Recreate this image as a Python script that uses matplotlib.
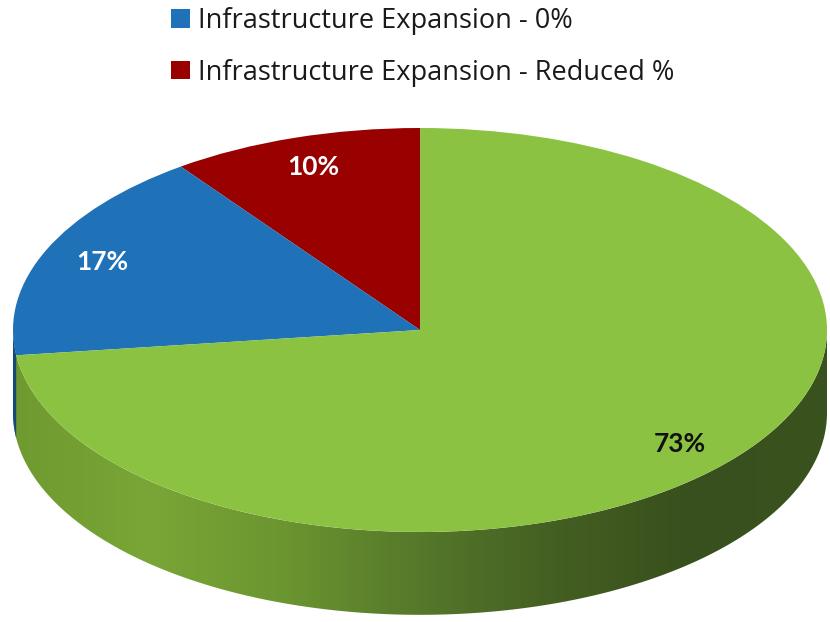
import numpy as np
import matplotlib
matplotlib.use("Agg")
import matplotlib.pyplot as plt
from matplotlib.patches import Polygon
from matplotlib.colors import LinearSegmentedColormap

plt.rcParams['font.family'] = ['Open Sans', 'DejaVu Sans']

# data
labels = ['Infrastructure Expansion - Reduced %', 'Infrastructure Expansion - 0%', 'Other']
values = [10, 17, 73]
colors = ['#990000', '#1F71B8', '#8BC241']
side_colors = ['#5e0000', '#134a7a', None]   # green side gets a gradient
label_colors = ['white', 'white', '#111111']
legend_order = [1, 0]

depth = 0.41          # thickness of the disc, in units of the vertical radius

fig = plt.figure(figsize=(8.3, 6.22), dpi=100)
ax = fig.add_axes([0, 0, 1, 1])

wedges, texts, autotexts = ax.pie(
    values, colors=colors, startangle=90, counterclock=True, radius=1,
    autopct=lambda p: f'{p:.0f}%', pctdistance=0.85,
    wedgeprops=dict(linewidth=0),
    textprops=dict(fontsize=19, fontweight='bold', family=['Lato', 'DejaVu Sans']))
for t in texts:
    t.set_text('')
for t, c in zip(autotexts, label_colors):
    t.set_color(c)
    t.set_zorder(5)
for w in wedges:
    w.set_zorder(3)

# front side of the disc (angles 180..360 are visible)
th = np.linspace(np.pi, 2 * np.pi, 400)
side = np.vstack([np.column_stack([np.cos(th), np.sin(th)]),
                  np.column_stack([np.cos(th[::-1]), np.sin(th[::-1]) - depth])])
side_poly = Polygon(side, closed=True, facecolor='none', edgecolor='none')
ax.add_patch(side_poly)
grad = LinearSegmentedColormap.from_list(
    'side', ['#6f9a30', '#79a636', '#6b9530', '#55782a', '#445f22', '#38501d', '#3a521e'])
img = ax.imshow(np.linspace(0, 1, 256)[None, :], cmap=grad, aspect='auto',
                extent=[-1, 1, -1 - depth, 0], zorder=1, interpolation='bilinear')
img.set_clip_path(side_poly)

# side strips of the other wedges where they reach the front half
start = 90.0
for v, sc in zip(values, side_colors):
    end = start + 360.0 * v / sum(values)
    a0, a1 = max(start, 180.0), min(end, 360.0)
    if sc is not None and a1 > a0:
        tt = np.radians(np.linspace(a0, a1, 30))
        pts = np.vstack([np.column_stack([np.cos(tt), np.sin(tt)]),
                         np.column_stack([np.cos(tt[::-1]), np.sin(tt[::-1]) - depth])])
        ax.add_patch(Polygon(pts, closed=True, facecolor=sc, edgecolor='none', zorder=2))
    start = end

ax.legend([wedges[i] for i in legend_order], [labels[i] for i in legend_order],
          loc='upper left', bbox_to_anchor=(171 / 830, 1 - 7 / 622), frameon=False,
          fontsize=19.5, handlelength=0.7, handleheight=0.65, handletextpad=0.3,
          labelspacing=0.88, borderpad=0, borderaxespad=0, labelcolor='#1a1a1a')

ax.set_aspect('auto')
ax.set_xlim(-420 / 407, 410 / 407)
ax.set_ylim(-292 / 202, 330 / 202)
ax.axis('off')

fig.savefig('out.png', dpi=100)
